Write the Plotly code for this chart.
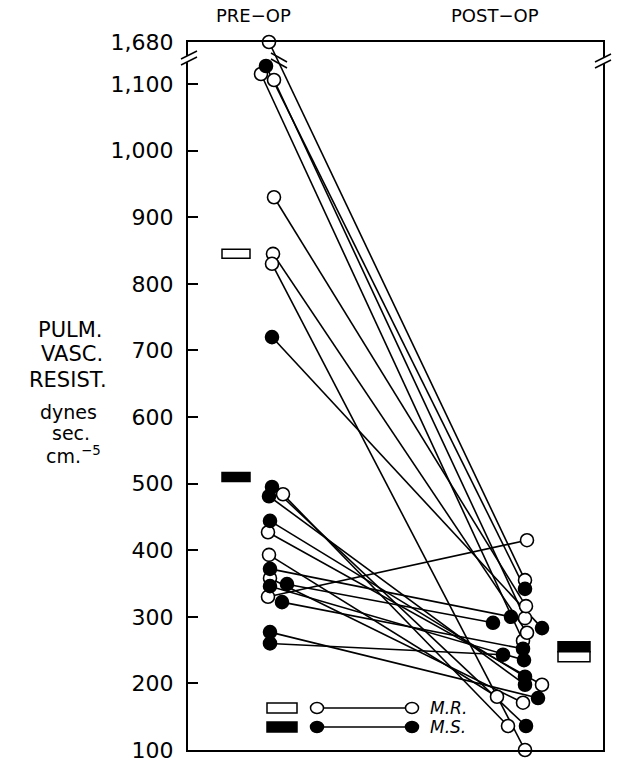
import plotly.graph_objects as go

# ---------------- data ----------------
# Mitral regurgitation (M.R.) patients: pre-op -> post-op resistance
mr_pre = [1680, 1115, 1106, 930, 845, 830, 484, 427, 393, 358, 330]
mr_post = [355, 264, 298, 316, 276, 100, 136, 198, 180, 171, 415]
# Mitral stenosis (M.S.) patients: pre-op -> post-op resistance
ms_pre = [1127, 720, 495, 481, 444, 372, 346, 349, 322, 277, 260]
ms_post = [342, 283, 136, 198, 210, 300, 235, 291, 252, 178, 243]
# group means
mr_means = [845, 240]   # pre, post
ms_means = [510, 255]   # pre, post

columns = ["PRE−OP", "POST−OP"]
tick_values = [100, 200, 300, 400, 500, 600, 700, 800, 900, 1000, 1100, 1680]
tick_labels = ["100", "200", "300", "400", "500", "600", "700", "800", "900",
               "1,000", "1,100", "1,680"]
y_title_lines = ["PULM.", "VASC.", "RESIST."]
y_unit_lines = ["dynes", "sec.", "cm.<sup>−5</sup>"]
legend_labels = ["M.R.", "M.S."]

# ---------------- layout helpers (positions, not data) ----------------
PX = 255.0                      # pixels per column unit (pre=0, post=1)
# small horizontal pixel nudges used in the original drawing to avoid overlap
mr_pre_dx = [-1, -9, 4, 4, 3, 2, 13, -2, -1, 0, -2]
mr_post_dx = [0, -2, 0, 1, 2, 0, -17, 17, -28, -2, 2]
ms_pre_dx = [-4, 2, 2, -1, 0, 0, 0, 17, 12, 0, 0]
ms_post_dx = [0, 17, 1, 0, 0, -14, -1, -32, -2, 13, -22]

BREAK_LO, AX_TOP, BREAK_HI = 1140.0, 1163.06, 1680.0


def yb(v):
    """broken axis: values above the break are compressed"""
    if v <= BREAK_LO:
        return v
    return BREAK_LO + (v - BREAK_LO) * (AX_TOP - BREAK_LO) / (BREAK_HI - BREAK_LO)


def xp(col, dx):
    return col + dx / PX


L, R, T, B = 188, 603, 42, 750


def paper_x(px):
    return (px - L) / (R - L)


def paper_y(py):
    return (B - py) / (B - T)


fig = go.Figure()

# connecting lines
for pre, post, pdx, qdx in [(mr_pre, mr_post, mr_pre_dx, mr_post_dx),
                            (ms_pre, ms_post, ms_pre_dx, ms_post_dx)]:
    xs, ys = [], []
    for a, b, da, db in zip(pre, post, pdx, qdx):
        xs += [xp(0, da), xp(1, db), None]
        ys += [yb(a), yb(b), None]
    fig.add_trace(go.Scatter(x=xs, y=ys, mode="lines",
                             line=dict(color="black", width=1.6),
                             hoverinfo="skip", cliponaxis=False))

# markers
for pre, post, pdx, qdx, fill in [(mr_pre, mr_post, mr_pre_dx, mr_post_dx, "white"),
                                  (ms_pre, ms_post, ms_pre_dx, ms_post_dx, "black")]:
    xs = [xp(0, d) for d in pdx] + [xp(1, d) for d in qdx]
    ys = [yb(v) for v in pre] + [yb(v) for v in post]
    fig.add_trace(go.Scatter(x=xs, y=ys, mode="markers",
                             marker=dict(symbol="circle", size=13, color=fill,
                                         line=dict(color="black", width=1.6)),
                             cliponaxis=False))

shapes = []
# mean rectangles (centre from data, size in pixels)
for col, dx, val, fill, w, h in [(0, -34, mr_means[0], "white", 28, 9),
                                 (0, -34, ms_means[0], "black", 28, 9),
                                 (1, 49, ms_means[1], "black", 32, 10),
                                 (1, 49, mr_means[1], "white", 32, 10)]:
    shapes.append(dict(type="rect", xref="x", yref="y",
                       xsizemode="pixel", ysizemode="pixel",
                       xanchor=xp(col, dx), yanchor=yb(val),
                       x0=-w / 2, x1=w / 2, y0=-h / 2, y1=h / 2,
                       fillcolor=fill, line=dict(color="black", width=1.5)))


def seg(x0, y0, x1, y1, color="black", width=1.5):
    return dict(type="line", xref="paper", yref="paper",
                x0=paper_x(x0), y0=paper_y(y0), x1=paper_x(x1), y1=paper_y(y1),
                line=dict(color=color, width=width))


# axis-break marks
for cx, cy in [(189, 60), (603, 63)]:
    shapes.append(seg(cx - 8, cy + 2, cx + 8, cy - 6, "white", 6))
    shapes.append(seg(cx - 8, cy - 1, cx + 8, cy - 9))
    shapes.append(seg(cx - 8, cy + 5, cx + 8, cy - 3))
shapes.append(seg(271, 53, 287, 62))
shapes.append(seg(271, 59, 287, 68))

# hand-drawn legend
for i, (fill, py) in enumerate([("white", 708), ("black", 727)]):
    shapes.append(dict(type="rect", xref="paper", yref="paper",
                       xsizemode="pixel", ysizemode="pixel",
                       xanchor=paper_x(282), yanchor=paper_y(py),
                       x0=-15, x1=15, y0=-5, y1=5,
                       fillcolor=fill, line=dict(color="black", width=1.5)))
    shapes.append(seg(317, py, 412, py, "black", 1.4))
    for cxp in (317, 412):
        shapes.append(dict(type="circle", xref="paper", yref="paper",
                           xsizemode="pixel", ysizemode="pixel",
                           xanchor=paper_x(cxp), yanchor=paper_y(py),
                           x0=-6.5, x1=6.5, y0=-5.5, y1=5.5,
                           fillcolor=fill, line=dict(color="black", width=1.5)))

FONT = "DejaVu Sans"


def ann(text, px, py, size, xanchor="center"):
    return dict(text=text, x=paper_x(px), y=paper_y(py), xref="paper", yref="paper",
                xanchor=xanchor, yanchor="middle", showarrow=False,
                font=dict(family=FONT, size=size, color="black"))


annotations = [ann(columns[0], 253, 15, 18), ann(columns[1], 495, 15, 18)]
for txt, px, py in zip(y_title_lines, (70, 72, 68), (330, 354, 380)):
    annotations.append(ann(txt, px, py, 21))
for txt, px, py in zip(y_unit_lines, (68, 71, 73), (412, 433, 455)):
    annotations.append(ann(txt, px, py, 19))
for lab, py in zip(legend_labels, (708, 727)):
    annotations.append(ann("<i>" + lab + "</i>", 428, py, 17, "left"))

fig.update_layout(
    width=617, height=759, autosize=False,
    margin=dict(l=L, r=617 - R, t=T, b=759 - B, pad=0, autoexpand=False),
    plot_bgcolor="white", paper_bgcolor="white",
    showlegend=False,
    shapes=shapes, annotations=annotations,
    xaxis=dict(range=[(L - 270) / PX, (R - 270) / PX], showgrid=False,
               zeroline=False, showticklabels=False, ticks="",
               showline=True, linecolor="black", linewidth=1.5, mirror=True,
               automargin=False),
    yaxis=dict(range=[100, AX_TOP], tickvals=[yb(v) for v in tick_values],
               ticktext=tick_labels, ticks="inside", ticklen=10, tickwidth=1.5,
               tickcolor="black", showline=True, linecolor="black", linewidth=2,
               mirror=True, showgrid=False, zeroline=False, automargin=False,
               ticklabelstandoff=8, ticklabeloverflow="allow",
               tickfont=dict(family=FONT, size=22, color="black")),
)

fig.write_html("out.html",
               config={"displayModeBar": False},
               post_script="document.body.style.margin='0';"
                           "document.body.style.overflow='hidden';")
